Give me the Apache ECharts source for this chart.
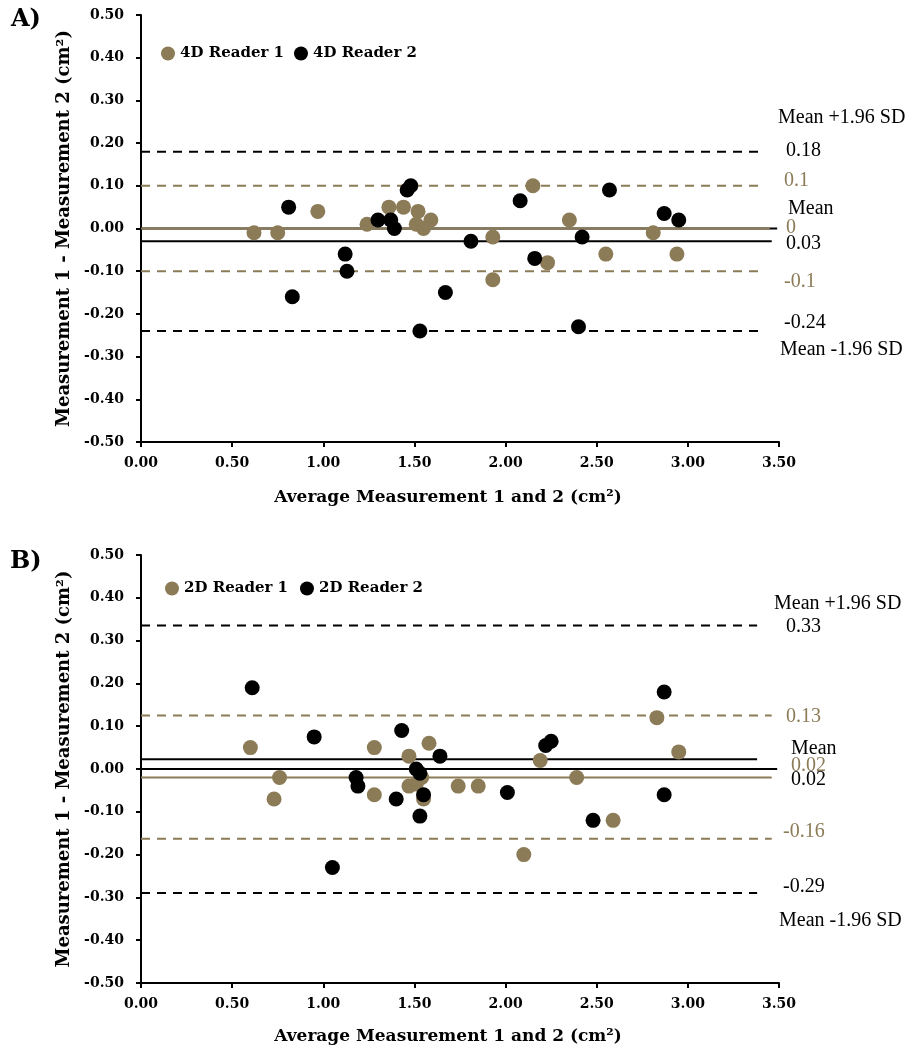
<!DOCTYPE html>
<html>
<head>
<meta charset="utf-8">
<script src="https://cdn.jsdelivr.net/npm/echarts@6/dist/echarts.min.js"></script>
<style>
  html, body { margin: 0; padding: 0; background: #fff; }
  #main { width: 912px; height: 1057px; }
</style>
</head>
<body>
<div id="main"></div>
<script>
// panel A (4D) points: [average, difference]
var a4dReader1 = [[0.62,-0.01],[0.75,-0.01],[0.97,0.04],[1.24,0.01],[1.36,0.05],[1.44,0.05],[1.52,0.04],[1.51,0.01],[1.55,0.00],[1.59,0.02],[1.93,-0.02],[1.93,-0.12],[2.15,0.10],[2.23,-0.08],[2.35,0.02],[2.55,-0.06],[2.81,-0.01],[2.94,-0.06]];
var a4dReader2 = [[0.81,0.05],[0.83,-0.16],[1.12,-0.06],[1.13,-0.10],[1.30,0.02],[1.37,0.02],[1.39,0.00],[1.46,0.09],[1.48,0.10],[1.53,-0.24],[1.67,-0.15],[1.81,-0.03],[2.08,0.065],[2.16,-0.07],[2.40,-0.23],[2.42,-0.02],[2.57,0.09],[2.87,0.035],[2.95,0.02]];
// panel B (2D) points
var b2dReader1 = [[0.60,0.05],[0.73,-0.07],[0.76,-0.02],[1.28,0.05],[1.28,-0.06],[1.47,0.03],[1.58,0.06],[1.47,-0.04],[1.51,-0.035],[1.54,-0.02],[1.55,-0.07],[1.74,-0.04],[1.85,-0.04],[2.10,-0.20],[2.19,0.02],[2.39,-0.02],[2.59,-0.12],[2.83,0.12],[2.95,0.04]];
var b2dReader2 = [[0.61,0.19],[0.95,0.075],[1.05,-0.23],[1.18,-0.02],[1.19,-0.04],[1.40,-0.07],[1.43,0.09],[1.51,0.00],[1.53,-0.01],[1.55,-0.06],[1.53,-0.11],[1.64,0.03],[2.01,-0.055],[2.22,0.055],[2.25,0.065],[2.48,-0.12],[2.87,-0.06],[2.87,0.18]];

// limits of agreement / mean lines (reader 1 = tan, reader 2 = black)
var aLimitsR1 = { upper: 0.10, mean: 0.00, lower: -0.10 };
var aLimitsR2 = { upper: 0.18, mean: -0.03, lower: -0.24 };
var bLimitsR1 = { upper: 0.125, mean: -0.02, lower: -0.163 };
var bLimitsR2 = { upper: 0.335, mean: 0.023, lower: -0.29 };

var xTicks = [0, 0.5, 1, 1.5, 2, 2.5, 3, 3.5];
var yTicks = [-0.5, -0.4, -0.3, -0.2, -0.1, 0, 0.1, 0.2, 0.3, 0.4, 0.5];

var TAN = '#8c7b57';
var BLK = '#000000';
var serifB = 'DejaVu Serif';
var serif = 'Liberation Serif';

var chart = echarts.init(document.getElementById('main'));

function hline(gi, val, color, dashed, xEnd) {
  return {
    type: 'line', xAxisIndex: gi, yAxisIndex: gi,
    data: [[0, val], [xEnd, val]],
    symbol: 'none', silent: true, clip: false, z: 1,
    lineStyle: { color: color, width: 2, type: dashed ? [9, 7] : 'solid' }
  };
}

function dots(gi, name, data, color) {
  return {
    type: 'scatter', name: name, xAxisIndex: gi, yAxisIndex: gi,
    data: data, symbol: 'circle', symbolSize: 15, z: 3,
    itemStyle: { color: color, opacity: 1 }
  };
}

function xAx(gi, gap) {
  return {
    type: 'value', gridIndex: gi, min: xTicks[0], max: xTicks[xTicks.length - 1], interval: 0.5,
    name: 'Average Measurement 1 and 2 (cm²)', nameLocation: 'middle', nameGap: gap,
    nameTextStyle: { fontFamily: serifB, fontWeight: 'bold', fontSize: 17, color: '#000',
      padding: [0, 24, 0, 0] },
    axisLine: { onZero: false, lineStyle: { color: '#000', width: 2 } },
    axisTick: { show: true, length: 5, lineStyle: { color: '#000', width: 2 } },
    splitLine: { show: false },
    axisLabel: { margin: 14, fontFamily: serifB, fontWeight: 'bold', fontSize: 14, color: '#000',
      formatter: function (v) { return v.toFixed(2); } }
  };
}

function yAx(gi) {
  return {
    type: 'value', gridIndex: gi, min: yTicks[0], max: yTicks[yTicks.length - 1], interval: 0.1,
    name: 'Measurement 1 - Measurement 2 (cm²)', nameLocation: 'middle', nameGap: 67,
    nameTextStyle: { fontFamily: serifB, fontWeight: 'bold', fontSize: 18, color: '#000' },
    axisLine: { onZero: false, lineStyle: { color: '#000', width: 2 } },
    axisTick: { show: true, length: 5, lineStyle: { color: '#000', width: 2 } },
    splitLine: { show: false },
    axisLabel: { margin: 17, fontFamily: serifB, fontWeight: 'bold', fontSize: 14, color: '#000',
      formatter: function (v) { return v.toFixed(2); } }
  };
}

function note(text, x, y, color) {
  return { type: 'text', left: x, top: y - 11,
    style: { text: text, fill: color, font: '20px "' + serif + '"' } };
}

var series = [
  // zero reference lines (black) under the means
  hline(0, 0, BLK, false, 3.49),
  hline(0, aLimitsR2.upper, BLK, true, 3.41),
  hline(0, aLimitsR1.upper, TAN, true, 3.41),
  hline(0, aLimitsR1.mean, TAN, false, 3.45),
  hline(0, aLimitsR2.mean, BLK, false, 3.46),
  hline(0, aLimitsR1.lower, TAN, true, 3.41),
  hline(0, aLimitsR2.lower, BLK, true, 3.41),
  hline(1, 0, BLK, false, 3.49),
  hline(1, bLimitsR2.upper, BLK, true, 3.38),
  hline(1, bLimitsR1.upper, TAN, true, 3.46),
  hline(1, bLimitsR2.mean, BLK, false, 3.38),
  hline(1, bLimitsR1.mean, TAN, false, 3.46),
  hline(1, bLimitsR1.lower, TAN, true, 3.46),
  hline(1, bLimitsR2.lower, BLK, true, 3.38),
  dots(0, '4D Reader 1', a4dReader1, TAN),
  dots(0, '4D Reader 2', a4dReader2, BLK),
  dots(1, '2D Reader 1', b2dReader1, TAN),
  dots(1, '2D Reader 2', b2dReader2, BLK)
];

var legendText = { fontFamily: serifB, fontWeight: 'bold', fontSize: 15, color: '#000' };

var option = {
  animation: false,
  backgroundColor: '#fff',
  grid: [
    { left: 141, width: 638, top: 15, height: 427 },
    { left: 141, width: 638, top: 555, height: 428 }
  ],
  xAxis: [xAx(0, 47), xAx(1, 45)],
  yAxis: [yAx(0), yAx(1)],
  legend: [
    { data: ['4D Reader 1', '4D Reader 2'], left: 156, top: 41, icon: 'circle',
      itemWidth: 14, itemHeight: 14, itemGap: 10, textStyle: legendText, selectedMode: false },
    { data: ['2D Reader 1', '2D Reader 2'], left: 160, top: 576, icon: 'circle',
      itemWidth: 14, itemHeight: 14, itemGap: 12, textStyle: legendText, selectedMode: false }
  ],
  graphic: [
    { type: 'text', left: 11, top: 8, style: { text: 'A)', fill: '#000', font: 'bold 24px "' + serifB + '"' } },
    { type: 'text', left: 10, top: 550, style: { text: 'B)', fill: '#000', font: 'bold 24px "' + serifB + '"' } },
    note('Mean +1.96 SD', 778, 119, BLK),
    note('0.18', 786, 152, BLK),
    note('0.1', 784, 182, TAN),
    note('Mean', 788, 210, BLK),
    note('0', 786, 229, TAN),
    note('0.03', 786, 245, BLK),
    note('-0.1', 784, 283, TAN),
    note('-0.24', 784, 324, BLK),
    note('Mean -1.96 SD', 780, 351, BLK),
    note('Mean +1.96 SD', 774, 605, BLK),
    note('0.33', 786, 628, BLK),
    note('0.13', 786, 718, TAN),
    note('Mean', 791, 750, BLK),
    note('0.02', 791, 767, TAN),
    note('0.02', 791, 781, BLK),
    note('-0.16', 783, 833, TAN),
    note('-0.29', 783, 888, BLK),
    note('Mean -1.96 SD', 779, 922, BLK)
  ],
  series: series
};

chart.setOption(option);
</script>
</body>
</html>
